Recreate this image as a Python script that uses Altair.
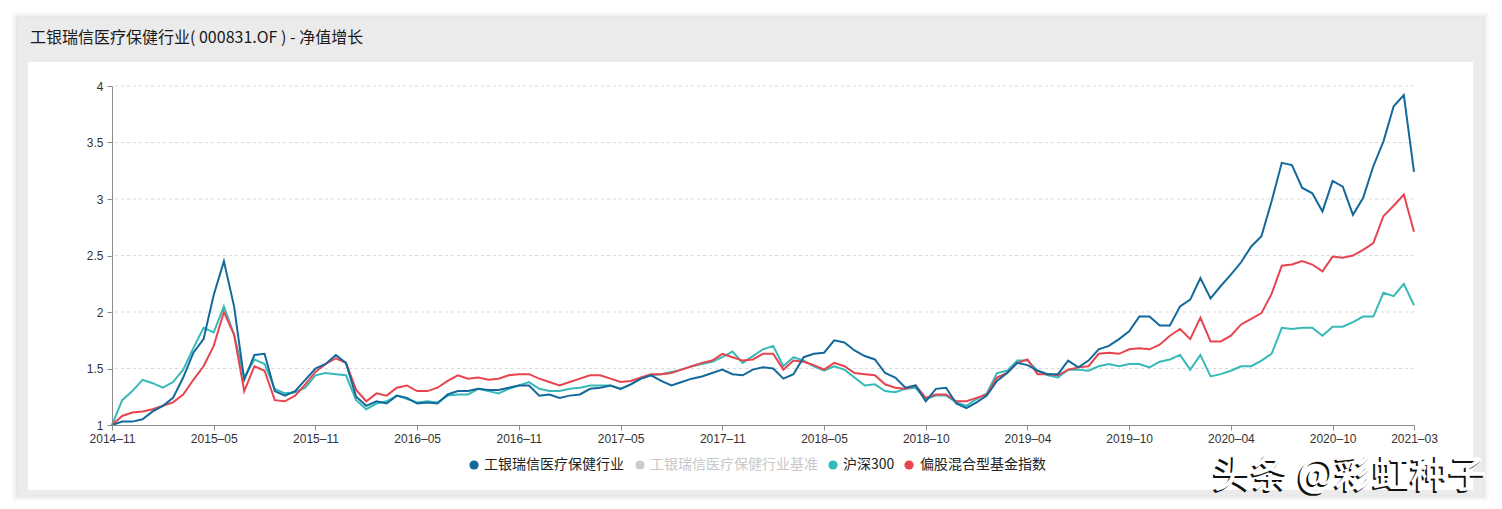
import altair as alt
import pandas as pd

# ---------------- data ----------------
series_names = ["工银瑞信医疗保健行业", "工银瑞信医疗保健行业基准", "沪深300", "偏股混合型基金指数"]
series_colors = ["#13699b", "#cccccc", "#36bab8", "#e8444f"]

x_tick_index = [0, 10, 20, 30, 40, 50, 60, 70, 80, 90, 100, 110, 120, 128]
x_tick_labels = ["2014–11", "2015–05", "2015–11", "2016–05", "2016–11", "2017–05", "2017–11",
                 "2018–05", "2018–10", "2019–04", "2019–10", "2020–04", "2020–10", "2021–03"]
y_ticks = [1, 1.5, 2, 2.5, 3, 3.5, 4]

fund = [
    1.00, 1.03, 1.03, 1.05, 1.12, 1.17, 1.24, 1.42, 1.64, 1.76,
    2.15, 2.45, 2.05, 1.40, 1.62, 1.63, 1.30, 1.26, 1.30, 1.40,
    1.50, 1.54, 1.62, 1.55, 1.25, 1.17, 1.21, 1.19, 1.26, 1.24,
    1.19, 1.20, 1.19, 1.27, 1.30, 1.30, 1.32, 1.31, 1.31, 1.33,
    1.35, 1.35, 1.26, 1.27, 1.24, 1.26, 1.27, 1.32, 1.33, 1.35,
    1.32, 1.36, 1.41, 1.44, 1.39, 1.35, 1.38, 1.41, 1.43, 1.46,
    1.49, 1.45, 1.44, 1.49, 1.51, 1.50, 1.41, 1.45, 1.60, 1.63,
    1.64, 1.75, 1.73, 1.66, 1.61, 1.58, 1.46, 1.42, 1.33, 1.35,
    1.21, 1.32, 1.33, 1.19, 1.15, 1.20, 1.26, 1.39, 1.46, 1.55,
    1.53, 1.48, 1.45, 1.45, 1.57, 1.51, 1.57, 1.67, 1.70, 1.76,
    1.83, 1.96, 1.96, 1.88, 1.88, 2.05, 2.11, 2.30, 2.12, 2.23,
    2.33, 2.44, 2.58, 2.67, 2.98, 3.32, 3.30, 3.10, 3.05, 2.89,
    3.16, 3.11, 2.86, 3.01, 3.29, 3.51, 3.82, 3.92, 3.24,
]

hs300 = [
    1.00, 1.22, 1.30, 1.40, 1.37, 1.33, 1.38, 1.49, 1.68, 1.86,
    1.82, 2.05, 1.80, 1.42, 1.58, 1.54, 1.32, 1.28, 1.29, 1.33,
    1.44, 1.46, 1.45, 1.44, 1.22, 1.14, 1.19, 1.21, 1.26, 1.23,
    1.20, 1.21, 1.20, 1.26, 1.27, 1.27, 1.32, 1.30, 1.28, 1.32,
    1.35, 1.38, 1.32, 1.30, 1.30, 1.32, 1.33, 1.35, 1.35, 1.35,
    1.32, 1.36, 1.41, 1.44, 1.45, 1.47, 1.49, 1.52, 1.54, 1.56,
    1.60, 1.65, 1.55, 1.61, 1.67, 1.70, 1.52, 1.60, 1.57, 1.52,
    1.48, 1.52, 1.49, 1.42, 1.35, 1.36, 1.30, 1.29, 1.32, 1.33,
    1.23, 1.26, 1.26, 1.20, 1.17, 1.23, 1.28, 1.46, 1.48, 1.57,
    1.57, 1.48, 1.44, 1.42, 1.49, 1.49, 1.48, 1.52, 1.54, 1.52,
    1.54, 1.54, 1.51, 1.56, 1.58, 1.62, 1.49, 1.62, 1.43, 1.45,
    1.48, 1.52, 1.52, 1.57, 1.63, 1.86, 1.85, 1.86, 1.86, 1.79,
    1.87, 1.87, 1.91, 1.96, 1.96, 2.17, 2.14, 2.25, 2.06,
]

mixed_index = [
    1.00, 1.08, 1.11, 1.12, 1.14, 1.17, 1.20, 1.27, 1.40, 1.52,
    1.70, 2.00, 1.80, 1.30, 1.52, 1.48, 1.22, 1.21, 1.26, 1.36,
    1.47, 1.54, 1.59, 1.55, 1.31, 1.21, 1.28, 1.26, 1.33, 1.35,
    1.30, 1.30, 1.33, 1.39, 1.44, 1.41, 1.42, 1.40, 1.41, 1.44,
    1.45, 1.45, 1.41, 1.38, 1.35, 1.38, 1.41, 1.44, 1.44, 1.41,
    1.38, 1.39, 1.42, 1.45, 1.45, 1.46, 1.49, 1.52, 1.55, 1.57,
    1.63, 1.60, 1.57, 1.58, 1.63, 1.63, 1.49, 1.57, 1.56, 1.53,
    1.49, 1.55, 1.52, 1.46, 1.45, 1.44, 1.36, 1.33, 1.32, 1.35,
    1.24, 1.27, 1.27, 1.21, 1.21, 1.24, 1.27, 1.42, 1.46, 1.55,
    1.58, 1.45, 1.45, 1.44, 1.49, 1.51, 1.52, 1.63, 1.64, 1.63,
    1.67, 1.68, 1.67, 1.71, 1.79, 1.85, 1.76, 1.95, 1.74, 1.74,
    1.79, 1.89, 1.94, 1.99, 2.16, 2.41, 2.42, 2.45, 2.42, 2.36,
    2.49, 2.48, 2.50, 2.55, 2.61, 2.85, 2.94, 3.04, 2.71,
]

title_text = "工银瑞信医疗保健行业( 000831.OF ) - 净值增长"
watermark_text = "头条 @彩虹种子"

# ---------------- build table ----------------
rows = []
for name, vals in [(series_names[0], fund), (series_names[2], hs300), (series_names[3], mixed_index)]:
    for i, v in enumerate(vals):
        rows.append({"idx": i, "value": v, "series": name})
df = pd.DataFrame(rows)

W, H = 1302, 339
CJK = "Noto Sans CJK SC"
LAT = "Liberation Sans"

idx_js = "[" + ",".join(str(v) for v in x_tick_index) + "]"
lab_js = "[" + ",".join("'" + s + "'" for s in x_tick_labels) + "]"
label_expr = f"{lab_js}[indexof({idx_js}, datum.value)]"

x_scale = alt.Scale(domain=[0, len(fund) - 1], nice=False, zero=False)
y_scale = alt.Scale(domain=[1, 4], nice=False, zero=False)

x_axis = alt.Axis(values=x_tick_index, labelExpr=label_expr, grid=False, zindex=1,
                  domainColor="#8c8c8c", tickColor="#8c8c8c", tickSize=5,
                  labelColor="#333333", labelFontSize=12, labelFont=LAT,
                  labelPadding=3, labelOverlap=False, title=None, labelFlush=False)
y_axis = alt.Axis(values=y_ticks, format="~g", grid=False, zindex=1,
                  domainColor="#8c8c8c", tickColor="#8c8c8c", tickSize=5,
                  labelColor="#333333", labelFontSize=12, labelFont=LAT,
                  labelPadding=4, title=None)

color_scale = alt.Scale(domain=series_names, range=series_colors)

one = alt.Data(values=[{"k": 0}])

def rect(x1, x2, y1, y2, color, opacity=1.0):
    return alt.Chart(one).mark_rect(color=color, opacity=opacity).encode(
        x=alt.value(x1), x2=alt.value(x2), y=alt.value(y1), y2=alt.value(y2))

# background panels (pixel positions relative to plot area)
bg_layers = [
    rect(-100, 1377, -74, 415, "#000000", 0.02),
    rect(-98, 1375, -72, 413, "#000000", 0.03),
    rect(-96, 1373, -70, 411, "#000000", 0.04),
    rect(-94, 1371, -68, 409, "#ebebeb"),
    rect(-84, 1361, -24, 404, "#ffffff"),
]

title = alt.Chart(one).mark_text(align="left", baseline="middle", font=CJK, fontSize=16,
                                 color="#1a1a1a").encode(
    x=alt.value(-82), y=alt.value(-48), text=alt.value(title_text))

# horizontal dashed grid lines from the y tick list (drawn below the lines)
grid = alt.Chart(pd.DataFrame({"value": y_ticks[1:]})).mark_rule(
    color="#d9d9d9", strokeWidth=1, strokeDash=[3, 3]).encode(
    y=alt.Y("value:Q", scale=y_scale, axis=y_axis))

base = alt.Chart(df)
lines = []
for name in [series_names[2], series_names[3], series_names[0]]:
    lines.append(base.transform_filter(alt.datum.series == name).mark_line(
        strokeWidth=2, clip=False).encode(
        x=alt.X("idx:Q", scale=x_scale, axis=x_axis),
        y=alt.Y("value:Q", scale=y_scale, axis=y_axis),
        color=alt.Color("series:N", scale=color_scale, legend=None)))

# manual legend
legend_circle_x = [362, 528, 721, 797]
legend_text_x = [372, 538, 731, 808]
legend_text_color = ["#222222", "#c8c8c8", "#222222", "#222222"]
legend_y = 379
legend_layers = []
for k, name in enumerate(series_names):
    legend_layers.append(alt.Chart(one).mark_circle(size=85, opacity=1, color=series_colors[k]).encode(
        x=alt.value(legend_circle_x[k]), y=alt.value(legend_y)))
    legend_layers.append(alt.Chart(one).mark_text(align="left", baseline="middle", font=CJK,
                                                  fontSize=14, color=legend_text_color[k]).encode(
        x=alt.value(legend_text_x[k]), y=alt.value(legend_y), text=alt.value(name)))

wm_shadow = alt.Chart(one).mark_text(align="left", baseline="middle", font=CJK, fontSize=38,
                                     fontWeight=500, color="#111111").encode(
    x=alt.value(1099), y=alt.value(392), text=alt.value(watermark_text))
wm = alt.Chart(one).mark_text(align="left", baseline="middle", font=CJK, fontSize=38,
                              fontWeight=500, color="#ffffff").encode(
    x=alt.value(1101), y=alt.value(390), text=alt.value(watermark_text))

chart = alt.layer(*bg_layers, title, grid, *lines, *legend_layers, wm_shadow, wm).properties(
    width=W, height=H,
    autosize=alt.AutoSizeParams(type="none"),
    padding={"left": 104, "top": 78, "right": 80, "bottom": 76},
).configure_view(stroke=None).configure(background="#ffffff")

chart.save("out.html", embed_options={"renderer": "svg", "actions": False})
